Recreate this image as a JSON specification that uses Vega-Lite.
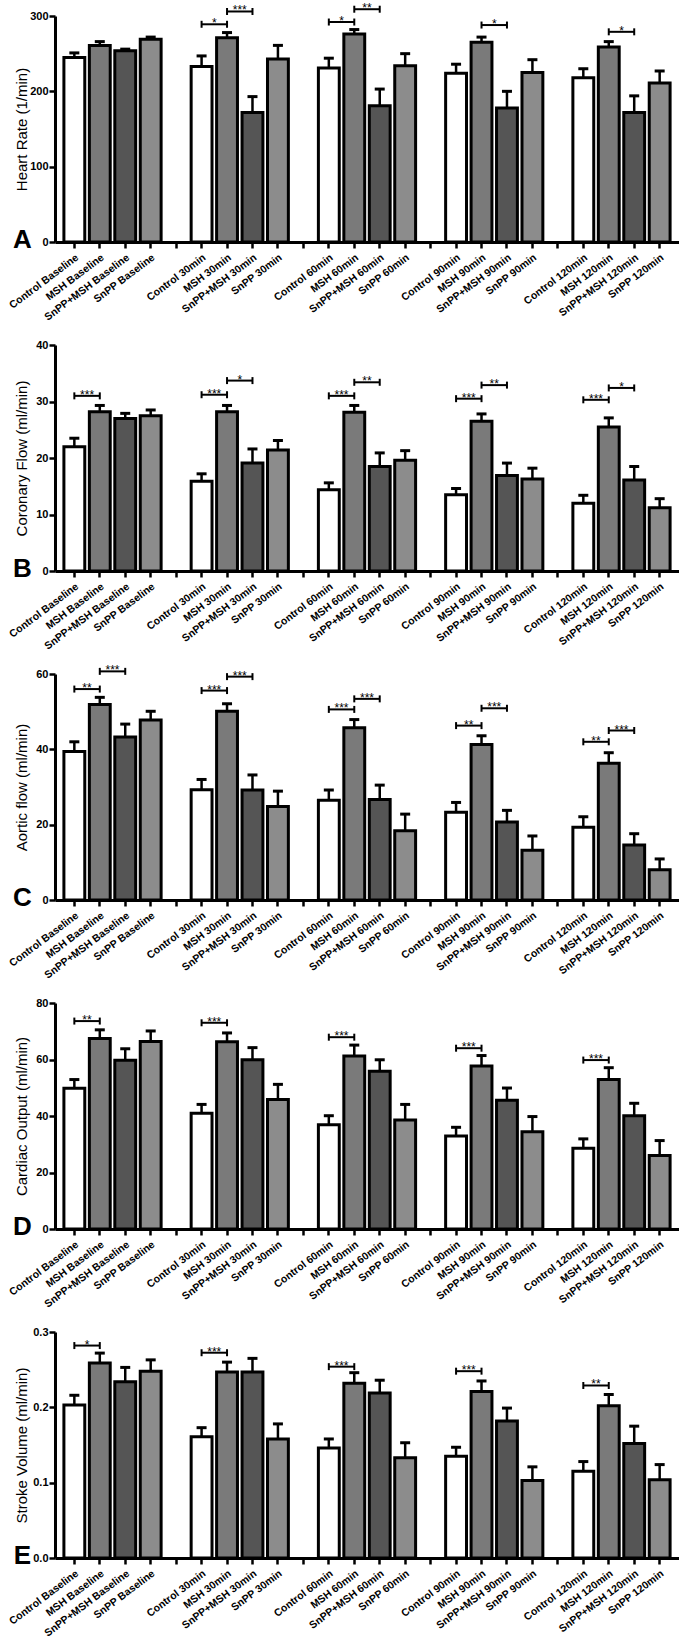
{
"$schema":"https://vega.github.io/schema/vega-lite/v6.json",
"background":"white",
"padding":{"left":7,"top":1,"right":0,"bottom":0},
"datasets":{
"hrBars":[
{"bar":"Control Baseline","group":"Control","mean":245,"upper":251},
{"bar":"MSH Baseline","group":"MSH","mean":261,"upper":266},
{"bar":"SnPP+MSH Baseline","group":"SnPP+MSH","mean":254,"upper":256},
{"bar":"SnPP Baseline","group":"SnPP","mean":269,"upper":272},
{"bar":"Control 30min","group":"Control","mean":233,"upper":247},
{"bar":"MSH 30min","group":"MSH","mean":271,"upper":278},
{"bar":"SnPP+MSH 30min","group":"SnPP+MSH","mean":172,"upper":193},
{"bar":"SnPP 30min","group":"SnPP","mean":243,"upper":261},
{"bar":"Control 60min","group":"Control","mean":231,"upper":244},
{"bar":"MSH 60min","group":"MSH","mean":276,"upper":282},
{"bar":"SnPP+MSH 60min","group":"SnPP+MSH","mean":181,"upper":203},
{"bar":"SnPP 60min","group":"SnPP","mean":234,"upper":250},
{"bar":"Control 90min","group":"Control","mean":224,"upper":236},
{"bar":"MSH 90min","group":"MSH","mean":265,"upper":272},
{"bar":"SnPP+MSH 90min","group":"SnPP+MSH","mean":178,"upper":200},
{"bar":"SnPP 90min","group":"SnPP","mean":225,"upper":242},
{"bar":"Control 120min","group":"Control","mean":218,"upper":230},
{"bar":"MSH 120min","group":"MSH","mean":259,"upper":266},
{"bar":"SnPP+MSH 120min","group":"SnPP+MSH","mean":172,"upper":194},
{"bar":"SnPP 120min","group":"SnPP","mean":211,"upper":227}],
"hrSig":[
{"bar":"Control 30min","to":"MSH 30min","y":289,"stars":"*"},
{"bar":"MSH 30min","to":"SnPP+MSH 30min","y":306,"stars":"***"},
{"bar":"Control 60min","to":"MSH 60min","y":292,"stars":"*"},
{"bar":"MSH 60min","to":"SnPP+MSH 60min","y":309,"stars":"**"},
{"bar":"MSH 90min","to":"SnPP+MSH 90min","y":288,"stars":"*"},
{"bar":"MSH 120min","to":"SnPP+MSH 120min","y":279,"stars":"*"}],
"cfBars":[
{"bar":"Control Baseline","group":"Control","mean":22.0,"upper":23.5},
{"bar":"MSH Baseline","group":"MSH","mean":28.2,"upper":29.3},
{"bar":"SnPP+MSH Baseline","group":"SnPP+MSH","mean":27.0,"upper":27.9},
{"bar":"SnPP Baseline","group":"SnPP","mean":27.5,"upper":28.5},
{"bar":"Control 30min","group":"Control","mean":15.9,"upper":17.2},
{"bar":"MSH 30min","group":"MSH","mean":28.2,"upper":29.3},
{"bar":"SnPP+MSH 30min","group":"SnPP+MSH","mean":19.1,"upper":21.6},
{"bar":"SnPP 30min","group":"SnPP","mean":21.4,"upper":23.1},
{"bar":"Control 60min","group":"Control","mean":14.4,"upper":15.6},
{"bar":"MSH 60min","group":"MSH","mean":28.1,"upper":29.3},
{"bar":"SnPP+MSH 60min","group":"SnPP+MSH","mean":18.5,"upper":20.9},
{"bar":"SnPP 60min","group":"SnPP","mean":19.6,"upper":21.3},
{"bar":"Control 90min","group":"Control","mean":13.5,"upper":14.6},
{"bar":"MSH 90min","group":"MSH","mean":26.5,"upper":27.8},
{"bar":"SnPP+MSH 90min","group":"SnPP+MSH","mean":16.9,"upper":19.1},
{"bar":"SnPP 90min","group":"SnPP","mean":16.3,"upper":18.2},
{"bar":"Control 120min","group":"Control","mean":12.0,"upper":13.4},
{"bar":"MSH 120min","group":"MSH","mean":25.5,"upper":27.1},
{"bar":"SnPP+MSH 120min","group":"SnPP+MSH","mean":16.1,"upper":18.5},
{"bar":"SnPP 120min","group":"SnPP","mean":11.2,"upper":12.8}],
"cfSig":[
{"bar":"Control Baseline","to":"MSH Baseline","y":31.0,"stars":"***"},
{"bar":"Control 30min","to":"MSH 30min","y":31.2,"stars":"***"},
{"bar":"MSH 30min","to":"SnPP+MSH 30min","y":33.7,"stars":"*"},
{"bar":"Control 60min","to":"MSH 60min","y":31.0,"stars":"***"},
{"bar":"MSH 60min","to":"SnPP+MSH 60min","y":33.4,"stars":"**"},
{"bar":"Control 90min","to":"MSH 90min","y":30.5,"stars":"***"},
{"bar":"MSH 90min","to":"SnPP+MSH 90min","y":32.9,"stars":"**"},
{"bar":"Control 120min","to":"MSH 120min","y":30.3,"stars":"***"},
{"bar":"MSH 120min","to":"SnPP+MSH 120min","y":32.4,"stars":"*"}],
"afBars":[
{"bar":"Control Baseline","group":"Control","mean":39.4,"upper":42.0},
{"bar":"MSH Baseline","group":"MSH","mean":51.9,"upper":53.8},
{"bar":"SnPP+MSH Baseline","group":"SnPP+MSH","mean":43.3,"upper":46.7},
{"bar":"SnPP Baseline","group":"SnPP","mean":47.8,"upper":50.1},
{"bar":"Control 30min","group":"Control","mean":29.3,"upper":32.0},
{"bar":"MSH 30min","group":"MSH","mean":50.1,"upper":52.1},
{"bar":"SnPP+MSH 30min","group":"SnPP+MSH","mean":29.2,"upper":33.2},
{"bar":"SnPP 30min","group":"SnPP","mean":24.8,"upper":28.9},
{"bar":"Control 60min","group":"Control","mean":26.5,"upper":29.2},
{"bar":"MSH 60min","group":"MSH","mean":45.7,"upper":47.9},
{"bar":"SnPP+MSH 60min","group":"SnPP+MSH","mean":26.7,"upper":30.5},
{"bar":"SnPP 60min","group":"SnPP","mean":18.4,"upper":22.8},
{"bar":"Control 90min","group":"Control","mean":23.3,"upper":25.9},
{"bar":"MSH 90min","group":"MSH","mean":41.3,"upper":43.6},
{"bar":"SnPP+MSH 90min","group":"SnPP+MSH","mean":20.7,"upper":23.8},
{"bar":"SnPP 90min","group":"SnPP","mean":13.2,"upper":17.0},
{"bar":"Control 120min","group":"Control","mean":19.3,"upper":22.1},
{"bar":"MSH 120min","group":"MSH","mean":36.3,"upper":39.1},
{"bar":"SnPP+MSH 120min","group":"SnPP+MSH","mean":14.6,"upper":17.6},
{"bar":"SnPP 120min","group":"SnPP","mean":8.0,"upper":10.9}],
"afSig":[
{"bar":"Control Baseline","to":"MSH Baseline","y":56.0,"stars":"**"},
{"bar":"MSH Baseline","to":"SnPP+MSH Baseline","y":60.7,"stars":"***"},
{"bar":"Control 30min","to":"MSH 30min","y":55.6,"stars":"***"},
{"bar":"MSH 30min","to":"SnPP+MSH 30min","y":59.3,"stars":"***"},
{"bar":"Control 60min","to":"MSH 60min","y":50.6,"stars":"***"},
{"bar":"MSH 60min","to":"SnPP+MSH 60min","y":53.4,"stars":"***"},
{"bar":"Control 90min","to":"MSH 90min","y":46.3,"stars":"**"},
{"bar":"MSH 90min","to":"SnPP+MSH 90min","y":50.9,"stars":"***"},
{"bar":"Control 120min","to":"MSH 120min","y":42.0,"stars":"**"},
{"bar":"MSH 120min","to":"SnPP+MSH 120min","y":45.0,"stars":"***"}],
"coBars":[
{"bar":"Control Baseline","group":"Control","mean":49.8,"upper":52.9},
{"bar":"MSH Baseline","group":"MSH","mean":67.4,"upper":70.5},
{"bar":"SnPP+MSH Baseline","group":"SnPP+MSH","mean":59.7,"upper":63.8},
{"bar":"SnPP Baseline","group":"SnPP","mean":66.4,"upper":70.1},
{"bar":"Control 30min","group":"Control","mean":41.0,"upper":44.1},
{"bar":"MSH 30min","group":"MSH","mean":66.3,"upper":69.4},
{"bar":"SnPP+MSH 30min","group":"SnPP+MSH","mean":59.9,"upper":64.2},
{"bar":"SnPP 30min","group":"SnPP","mean":45.8,"upper":51.2},
{"bar":"Control 60min","group":"Control","mean":36.9,"upper":40.1},
{"bar":"MSH 60min","group":"MSH","mean":61.2,"upper":65.1},
{"bar":"SnPP+MSH 60min","group":"SnPP+MSH","mean":55.8,"upper":59.9},
{"bar":"SnPP 60min","group":"SnPP","mean":38.6,"upper":44.1},
{"bar":"Control 90min","group":"Control","mean":32.9,"upper":36.0},
{"bar":"MSH 90min","group":"MSH","mean":57.7,"upper":61.4},
{"bar":"SnPP+MSH 90min","group":"SnPP+MSH","mean":45.6,"upper":49.9},
{"bar":"SnPP 90min","group":"SnPP","mean":34.4,"upper":39.8},
{"bar":"Control 120min","group":"Control","mean":28.6,"upper":31.9},
{"bar":"MSH 120min","group":"MSH","mean":52.9,"upper":57.1},
{"bar":"SnPP+MSH 120min","group":"SnPP+MSH","mean":40.1,"upper":44.5},
{"bar":"SnPP 120min","group":"SnPP","mean":26.0,"upper":31.3}],
"coSig":[
{"bar":"Control Baseline","to":"MSH Baseline","y":73.6,"stars":"**"},
{"bar":"Control 30min","to":"MSH 30min","y":73.0,"stars":"***"},
{"bar":"Control 60min","to":"MSH 60min","y":67.9,"stars":"***"},
{"bar":"Control 90min","to":"MSH 90min","y":64.0,"stars":"***"},
{"bar":"Control 120min","to":"MSH 120min","y":59.8,"stars":"***"}],
"svBars":[
{"bar":"Control Baseline","group":"Control","mean":0.203,"upper":0.216},
{"bar":"MSH Baseline","group":"MSH","mean":0.259,"upper":0.272},
{"bar":"SnPP+MSH Baseline","group":"SnPP+MSH","mean":0.234,"upper":0.253},
{"bar":"SnPP Baseline","group":"SnPP","mean":0.248,"upper":0.263},
{"bar":"Control 30min","group":"Control","mean":0.161,"upper":0.173},
{"bar":"MSH 30min","group":"MSH","mean":0.247,"upper":0.260},
{"bar":"SnPP+MSH 30min","group":"SnPP+MSH","mean":0.247,"upper":0.265},
{"bar":"SnPP 30min","group":"SnPP","mean":0.158,"upper":0.178},
{"bar":"Control 60min","group":"Control","mean":0.146,"upper":0.158},
{"bar":"MSH 60min","group":"MSH","mean":0.232,"upper":0.246},
{"bar":"SnPP+MSH 60min","group":"SnPP+MSH","mean":0.219,"upper":0.236},
{"bar":"SnPP 60min","group":"SnPP","mean":0.133,"upper":0.153},
{"bar":"Control 90min","group":"Control","mean":0.135,"upper":0.147},
{"bar":"MSH 90min","group":"MSH","mean":0.221,"upper":0.235},
{"bar":"SnPP+MSH 90min","group":"SnPP+MSH","mean":0.182,"upper":0.199},
{"bar":"SnPP 90min","group":"SnPP","mean":0.103,"upper":0.121},
{"bar":"Control 120min","group":"Control","mean":0.115,"upper":0.128},
{"bar":"MSH 120min","group":"MSH","mean":0.202,"upper":0.217},
{"bar":"SnPP+MSH 120min","group":"SnPP+MSH","mean":0.152,"upper":0.175},
{"bar":"SnPP 120min","group":"SnPP","mean":0.104,"upper":0.124}],
"svSig":[
{"bar":"Control Baseline","to":"MSH Baseline","y":0.282,"stars":"*"},
{"bar":"Control 30min","to":"MSH 30min","y":0.2725,"stars":"***"},
{"bar":"Control 60min","to":"MSH 60min","y":0.254,"stars":"***"},
{"bar":"Control 90min","to":"MSH 90min","y":0.248,"stars":"***"},
{"bar":"Control 120min","to":"MSH 120min","y":0.229,"stars":"**"}]
},
"vconcat":[
{"width":624,"height":226,
"layer":[
{"data":{"name":"hrBars"},"mark":{"type":"rule","color":"black","strokeWidth":2.5},"encoding":{"x":{"field":"bar","type":"nominal"},"y":{"field":"mean","type":"quantitative"},"y2":{"field":"upper"}}},
{"data":{"name":"hrBars"},"mark":{"type":"tick","color":"black","size":10,"thickness":3,"opacity":1},"encoding":{"x":{"field":"bar","type":"nominal"},"y":{"field":"upper","type":"quantitative"}}},
{"data":{"name":"hrBars"},"mark":{"type":"bar","stroke":"black","strokeWidth":3},"encoding":{
"x":{"field":"bar","type":"nominal","scale":{"domain":["Control Baseline","MSH Baseline","SnPP+MSH Baseline","SnPP Baseline","gap1","Control 30min","MSH 30min","SnPP+MSH 30min","SnPP 30min","gap2","Control 60min","MSH 60min","SnPP+MSH 60min","SnPP 60min","gap3","Control 90min","MSH 90min","SnPP+MSH 90min","SnPP 90min","gap4","Control 120min","MSH 120min","SnPP+MSH 120min","SnPP 120min"],"paddingInner":0.18,"paddingOuter":0.35},"axis":{"title":"A","labelExpr":"indexof(datum.value,'gap')==0 ? '' : datum.value","labelAngle":-37,"labelAlign":"right","labelBaseline":"top","labelPadding":4,"labelFont":"Liberation Sans","labelFontSize":10.5,"labelFontWeight":"bold","labelColor":"black","labelOverlap":false,"labelLimit":300,"domainColor":"black","domainWidth":3,"tickColor":"black","tickWidth":2.5,"tickSize":6,"titleFont":"Liberation Sans","titleFontSize":26,"titleFontWeight":"bold","titleColor":"black","titleAngle":0,"titleX":-33,"titleY":5,"titleAlign":"center","titleBaseline":"alphabetic","grid":false}},
"y":{"field":"mean","type":"quantitative","scale":{"domain":[0,300]},"axis":{"values":[0,100,200,300],"title":"Heart Rate (1/min)","labelFont":"Liberation Sans","labelFontSize":11,"labelFontWeight":"bold","labelColor":"black","labelPadding":1,"domainColor":"black","domainWidth":3,"tickColor":"black","tickWidth":2.5,"tickSize":6,"titleFont":"Liberation Sans","titleFontSize":15,"titleFontWeight":"normal","titleColor":"black","titleX":-34,"titleBaseline":"middle","grid":false}},
"fill":{"field":"group","type":"nominal","scale":{"domain":["Control","MSH","SnPP+MSH","SnPP"],"range":["#ffffff","#7a7a7a","#555555","#8c8c8c"]},"legend":null}}},
{"data":{"name":"hrSig"},"mark":{"type":"rule","color":"black","strokeWidth":2},"encoding":{"x":{"field":"bar","type":"nominal"},"x2":{"field":"to"},"y":{"field":"y","type":"quantitative"}}},
{"data":{"name":"hrSig"},"mark":{"type":"point","shape":"M0,-1L0,1","size":49,"stroke":"black","strokeWidth":2,"filled":false,"opacity":1},"encoding":{"x":{"field":"bar","type":"nominal"},"y":{"field":"y","type":"quantitative"}}},
{"data":{"name":"hrSig"},"mark":{"type":"point","shape":"M0,-1L0,1","size":49,"stroke":"black","strokeWidth":2,"filled":false,"opacity":1},"encoding":{"x":{"field":"to","type":"nominal"},"y":{"field":"y","type":"quantitative"}}},
{"data":{"name":"hrSig"},"mark":{"type":"text","dx":12.7,"dy":3,"fontSize":12,"font":"Liberation Sans","baseline":"alphabetic","color":"black"},"encoding":{"x":{"field":"bar","type":"nominal"},"y":{"field":"y","type":"quantitative"},"text":{"field":"stars"}}}
]},
{"width":624,"height":226,
"layer":[
{"data":{"name":"cfBars"},"mark":{"type":"rule","color":"black","strokeWidth":2.5},"encoding":{"x":{"field":"bar","type":"nominal"},"y":{"field":"mean","type":"quantitative"},"y2":{"field":"upper"}}},
{"data":{"name":"cfBars"},"mark":{"type":"tick","color":"black","size":10,"thickness":3,"opacity":1},"encoding":{"x":{"field":"bar","type":"nominal"},"y":{"field":"upper","type":"quantitative"}}},
{"data":{"name":"cfBars"},"mark":{"type":"bar","stroke":"black","strokeWidth":3},"encoding":{
"x":{"field":"bar","type":"nominal","scale":{"domain":["Control Baseline","MSH Baseline","SnPP+MSH Baseline","SnPP Baseline","gap1","Control 30min","MSH 30min","SnPP+MSH 30min","SnPP 30min","gap2","Control 60min","MSH 60min","SnPP+MSH 60min","SnPP 60min","gap3","Control 90min","MSH 90min","SnPP+MSH 90min","SnPP 90min","gap4","Control 120min","MSH 120min","SnPP+MSH 120min","SnPP 120min"],"paddingInner":0.18,"paddingOuter":0.35},"axis":{"title":"B","labelExpr":"indexof(datum.value,'gap')==0 ? '' : datum.value","labelAngle":-37,"labelAlign":"right","labelBaseline":"top","labelPadding":4,"labelFont":"Liberation Sans","labelFontSize":10.5,"labelFontWeight":"bold","labelColor":"black","labelOverlap":false,"labelLimit":300,"domainColor":"black","domainWidth":3,"tickColor":"black","tickWidth":2.5,"tickSize":6,"titleFont":"Liberation Sans","titleFontSize":26,"titleFontWeight":"bold","titleColor":"black","titleAngle":0,"titleX":-33,"titleY":5,"titleAlign":"center","titleBaseline":"alphabetic","grid":false}},
"y":{"field":"mean","type":"quantitative","scale":{"domain":[0,40]},"axis":{"values":[0,10,20,30,40],"title":"Coronary Flow (ml/min)","labelFont":"Liberation Sans","labelFontSize":11,"labelFontWeight":"bold","labelColor":"black","labelPadding":1,"domainColor":"black","domainWidth":3,"tickColor":"black","tickWidth":2.5,"tickSize":6,"titleFont":"Liberation Sans","titleFontSize":15,"titleFontWeight":"normal","titleColor":"black","titleX":-34,"titleBaseline":"middle","grid":false}},
"fill":{"field":"group","type":"nominal","scale":{"domain":["Control","MSH","SnPP+MSH","SnPP"],"range":["#ffffff","#7a7a7a","#555555","#8c8c8c"]},"legend":null}}},
{"data":{"name":"cfSig"},"mark":{"type":"rule","color":"black","strokeWidth":2},"encoding":{"x":{"field":"bar","type":"nominal"},"x2":{"field":"to"},"y":{"field":"y","type":"quantitative"}}},
{"data":{"name":"cfSig"},"mark":{"type":"point","shape":"M0,-1L0,1","size":49,"stroke":"black","strokeWidth":2,"filled":false,"opacity":1},"encoding":{"x":{"field":"bar","type":"nominal"},"y":{"field":"y","type":"quantitative"}}},
{"data":{"name":"cfSig"},"mark":{"type":"point","shape":"M0,-1L0,1","size":49,"stroke":"black","strokeWidth":2,"filled":false,"opacity":1},"encoding":{"x":{"field":"to","type":"nominal"},"y":{"field":"y","type":"quantitative"}}},
{"data":{"name":"cfSig"},"mark":{"type":"text","dx":12.7,"dy":3,"fontSize":12,"font":"Liberation Sans","baseline":"alphabetic","color":"black"},"encoding":{"x":{"field":"bar","type":"nominal"},"y":{"field":"y","type":"quantitative"},"text":{"field":"stars"}}}
]},
{"width":624,"height":226,
"layer":[
{"data":{"name":"afBars"},"mark":{"type":"rule","color":"black","strokeWidth":2.5},"encoding":{"x":{"field":"bar","type":"nominal"},"y":{"field":"mean","type":"quantitative"},"y2":{"field":"upper"}}},
{"data":{"name":"afBars"},"mark":{"type":"tick","color":"black","size":10,"thickness":3,"opacity":1},"encoding":{"x":{"field":"bar","type":"nominal"},"y":{"field":"upper","type":"quantitative"}}},
{"data":{"name":"afBars"},"mark":{"type":"bar","stroke":"black","strokeWidth":3},"encoding":{
"x":{"field":"bar","type":"nominal","scale":{"domain":["Control Baseline","MSH Baseline","SnPP+MSH Baseline","SnPP Baseline","gap1","Control 30min","MSH 30min","SnPP+MSH 30min","SnPP 30min","gap2","Control 60min","MSH 60min","SnPP+MSH 60min","SnPP 60min","gap3","Control 90min","MSH 90min","SnPP+MSH 90min","SnPP 90min","gap4","Control 120min","MSH 120min","SnPP+MSH 120min","SnPP 120min"],"paddingInner":0.18,"paddingOuter":0.35},"axis":{"title":"C","labelExpr":"indexof(datum.value,'gap')==0 ? '' : datum.value","labelAngle":-37,"labelAlign":"right","labelBaseline":"top","labelPadding":4,"labelFont":"Liberation Sans","labelFontSize":10.5,"labelFontWeight":"bold","labelColor":"black","labelOverlap":false,"labelLimit":300,"domainColor":"black","domainWidth":3,"tickColor":"black","tickWidth":2.5,"tickSize":6,"titleFont":"Liberation Sans","titleFontSize":26,"titleFontWeight":"bold","titleColor":"black","titleAngle":0,"titleX":-33,"titleY":5,"titleAlign":"center","titleBaseline":"alphabetic","grid":false}},
"y":{"field":"mean","type":"quantitative","scale":{"domain":[0,60]},"axis":{"values":[0,20,40,60],"title":"Aortic flow (ml/min)","labelFont":"Liberation Sans","labelFontSize":11,"labelFontWeight":"bold","labelColor":"black","labelPadding":1,"domainColor":"black","domainWidth":3,"tickColor":"black","tickWidth":2.5,"tickSize":6,"titleFont":"Liberation Sans","titleFontSize":15,"titleFontWeight":"normal","titleColor":"black","titleX":-34,"titleBaseline":"middle","grid":false}},
"fill":{"field":"group","type":"nominal","scale":{"domain":["Control","MSH","SnPP+MSH","SnPP"],"range":["#ffffff","#7a7a7a","#555555","#8c8c8c"]},"legend":null}}},
{"data":{"name":"afSig"},"mark":{"type":"rule","color":"black","strokeWidth":2},"encoding":{"x":{"field":"bar","type":"nominal"},"x2":{"field":"to"},"y":{"field":"y","type":"quantitative"}}},
{"data":{"name":"afSig"},"mark":{"type":"point","shape":"M0,-1L0,1","size":49,"stroke":"black","strokeWidth":2,"filled":false,"opacity":1},"encoding":{"x":{"field":"bar","type":"nominal"},"y":{"field":"y","type":"quantitative"}}},
{"data":{"name":"afSig"},"mark":{"type":"point","shape":"M0,-1L0,1","size":49,"stroke":"black","strokeWidth":2,"filled":false,"opacity":1},"encoding":{"x":{"field":"to","type":"nominal"},"y":{"field":"y","type":"quantitative"}}},
{"data":{"name":"afSig"},"mark":{"type":"text","dx":12.7,"dy":3,"fontSize":12,"font":"Liberation Sans","baseline":"alphabetic","color":"black"},"encoding":{"x":{"field":"bar","type":"nominal"},"y":{"field":"y","type":"quantitative"},"text":{"field":"stars"}}}
]},
{"width":624,"height":226,
"layer":[
{"data":{"name":"coBars"},"mark":{"type":"rule","color":"black","strokeWidth":2.5},"encoding":{"x":{"field":"bar","type":"nominal"},"y":{"field":"mean","type":"quantitative"},"y2":{"field":"upper"}}},
{"data":{"name":"coBars"},"mark":{"type":"tick","color":"black","size":10,"thickness":3,"opacity":1},"encoding":{"x":{"field":"bar","type":"nominal"},"y":{"field":"upper","type":"quantitative"}}},
{"data":{"name":"coBars"},"mark":{"type":"bar","stroke":"black","strokeWidth":3},"encoding":{
"x":{"field":"bar","type":"nominal","scale":{"domain":["Control Baseline","MSH Baseline","SnPP+MSH Baseline","SnPP Baseline","gap1","Control 30min","MSH 30min","SnPP+MSH 30min","SnPP 30min","gap2","Control 60min","MSH 60min","SnPP+MSH 60min","SnPP 60min","gap3","Control 90min","MSH 90min","SnPP+MSH 90min","SnPP 90min","gap4","Control 120min","MSH 120min","SnPP+MSH 120min","SnPP 120min"],"paddingInner":0.18,"paddingOuter":0.35},"axis":{"title":"D","labelExpr":"indexof(datum.value,'gap')==0 ? '' : datum.value","labelAngle":-37,"labelAlign":"right","labelBaseline":"top","labelPadding":4,"labelFont":"Liberation Sans","labelFontSize":10.5,"labelFontWeight":"bold","labelColor":"black","labelOverlap":false,"labelLimit":300,"domainColor":"black","domainWidth":3,"tickColor":"black","tickWidth":2.5,"tickSize":6,"titleFont":"Liberation Sans","titleFontSize":26,"titleFontWeight":"bold","titleColor":"black","titleAngle":0,"titleX":-33,"titleY":5,"titleAlign":"center","titleBaseline":"alphabetic","grid":false}},
"y":{"field":"mean","type":"quantitative","scale":{"domain":[0,80]},"axis":{"values":[0,20,40,60,80],"title":"Cardiac Output (ml/min)","labelFont":"Liberation Sans","labelFontSize":11,"labelFontWeight":"bold","labelColor":"black","labelPadding":1,"domainColor":"black","domainWidth":3,"tickColor":"black","tickWidth":2.5,"tickSize":6,"titleFont":"Liberation Sans","titleFontSize":15,"titleFontWeight":"normal","titleColor":"black","titleX":-34,"titleBaseline":"middle","grid":false}},
"fill":{"field":"group","type":"nominal","scale":{"domain":["Control","MSH","SnPP+MSH","SnPP"],"range":["#ffffff","#7a7a7a","#555555","#8c8c8c"]},"legend":null}}},
{"data":{"name":"coSig"},"mark":{"type":"rule","color":"black","strokeWidth":2},"encoding":{"x":{"field":"bar","type":"nominal"},"x2":{"field":"to"},"y":{"field":"y","type":"quantitative"}}},
{"data":{"name":"coSig"},"mark":{"type":"point","shape":"M0,-1L0,1","size":49,"stroke":"black","strokeWidth":2,"filled":false,"opacity":1},"encoding":{"x":{"field":"bar","type":"nominal"},"y":{"field":"y","type":"quantitative"}}},
{"data":{"name":"coSig"},"mark":{"type":"point","shape":"M0,-1L0,1","size":49,"stroke":"black","strokeWidth":2,"filled":false,"opacity":1},"encoding":{"x":{"field":"to","type":"nominal"},"y":{"field":"y","type":"quantitative"}}},
{"data":{"name":"coSig"},"mark":{"type":"text","dx":12.7,"dy":3,"fontSize":12,"font":"Liberation Sans","baseline":"alphabetic","color":"black"},"encoding":{"x":{"field":"bar","type":"nominal"},"y":{"field":"y","type":"quantitative"},"text":{"field":"stars"}}}
]},
{"width":624,"height":226,
"layer":[
{"data":{"name":"svBars"},"mark":{"type":"rule","color":"black","strokeWidth":2.5},"encoding":{"x":{"field":"bar","type":"nominal"},"y":{"field":"mean","type":"quantitative"},"y2":{"field":"upper"}}},
{"data":{"name":"svBars"},"mark":{"type":"tick","color":"black","size":10,"thickness":3,"opacity":1},"encoding":{"x":{"field":"bar","type":"nominal"},"y":{"field":"upper","type":"quantitative"}}},
{"data":{"name":"svBars"},"mark":{"type":"bar","stroke":"black","strokeWidth":3},"encoding":{
"x":{"field":"bar","type":"nominal","scale":{"domain":["Control Baseline","MSH Baseline","SnPP+MSH Baseline","SnPP Baseline","gap1","Control 30min","MSH 30min","SnPP+MSH 30min","SnPP 30min","gap2","Control 60min","MSH 60min","SnPP+MSH 60min","SnPP 60min","gap3","Control 90min","MSH 90min","SnPP+MSH 90min","SnPP 90min","gap4","Control 120min","MSH 120min","SnPP+MSH 120min","SnPP 120min"],"paddingInner":0.18,"paddingOuter":0.35},"axis":{"title":"E","labelExpr":"indexof(datum.value,'gap')==0 ? '' : datum.value","labelAngle":-37,"labelAlign":"right","labelBaseline":"top","labelPadding":4,"labelFont":"Liberation Sans","labelFontSize":10.5,"labelFontWeight":"bold","labelColor":"black","labelOverlap":false,"labelLimit":300,"domainColor":"black","domainWidth":3,"tickColor":"black","tickWidth":2.5,"tickSize":6,"titleFont":"Liberation Sans","titleFontSize":26,"titleFontWeight":"bold","titleColor":"black","titleAngle":0,"titleX":-33,"titleY":5,"titleAlign":"center","titleBaseline":"alphabetic","grid":false}},
"y":{"field":"mean","type":"quantitative","scale":{"domain":[0,0.3]},"axis":{"values":[0,0.1,0.2,0.3],"format":".1f","title":"Stroke Volume (ml/min)","labelFont":"Liberation Sans","labelFontSize":11,"labelFontWeight":"bold","labelColor":"black","labelPadding":1,"domainColor":"black","domainWidth":3,"tickColor":"black","tickWidth":2.5,"tickSize":6,"titleFont":"Liberation Sans","titleFontSize":15,"titleFontWeight":"normal","titleColor":"black","titleX":-34,"titleBaseline":"middle","grid":false}},
"fill":{"field":"group","type":"nominal","scale":{"domain":["Control","MSH","SnPP+MSH","SnPP"],"range":["#ffffff","#7a7a7a","#555555","#8c8c8c"]},"legend":null}}},
{"data":{"name":"svSig"},"mark":{"type":"rule","color":"black","strokeWidth":2},"encoding":{"x":{"field":"bar","type":"nominal"},"x2":{"field":"to"},"y":{"field":"y","type":"quantitative"}}},
{"data":{"name":"svSig"},"mark":{"type":"point","shape":"M0,-1L0,1","size":49,"stroke":"black","strokeWidth":2,"filled":false,"opacity":1},"encoding":{"x":{"field":"bar","type":"nominal"},"y":{"field":"y","type":"quantitative"}}},
{"data":{"name":"svSig"},"mark":{"type":"point","shape":"M0,-1L0,1","size":49,"stroke":"black","strokeWidth":2,"filled":false,"opacity":1},"encoding":{"x":{"field":"to","type":"nominal"},"y":{"field":"y","type":"quantitative"}}},
{"data":{"name":"svSig"},"mark":{"type":"text","dx":12.7,"dy":3,"fontSize":12,"font":"Liberation Sans","baseline":"alphabetic","color":"black"},"encoding":{"x":{"field":"bar","type":"nominal"},"y":{"field":"y","type":"quantitative"},"text":{"field":"stars"}}}
]}
],
"spacing":103,
"bounds":"flush",
"config":{"view":{"stroke":null}}
}
